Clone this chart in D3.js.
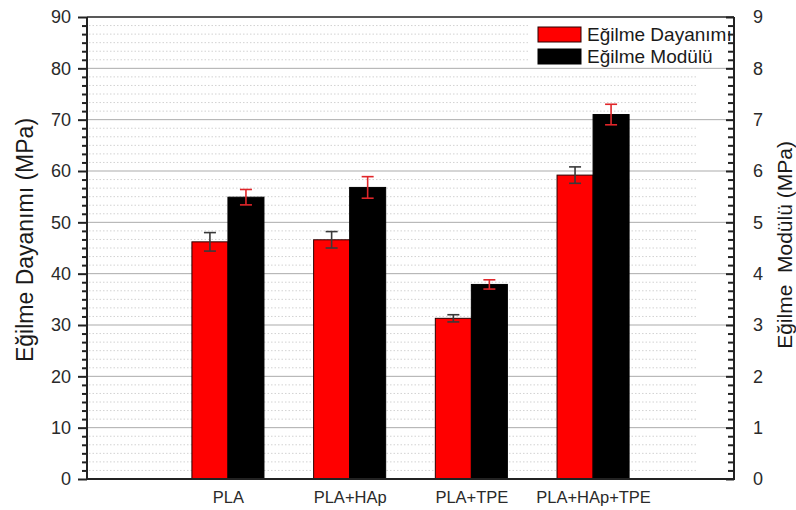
<!DOCTYPE html>
<html>
<head>
<meta charset="utf-8">
<script src="https://cdn.jsdelivr.net/npm/d3@7"></script>
<style>
  html, body { margin: 0; padding: 0; background: #fff; }
  svg { display: block; font-family: "Liberation Sans", Arial, sans-serif; }
</style>
</head>
<body>
<svg id="chart" width="796" height="510"></svg>
<script>
// Flexural test results per material
const categories = ["PLA", "PLA+HAp", "PLA+TPE", "PLA+HAp+TPE"];
const strength = [46.2, 46.6, 31.3, 59.2];        // Eğilme Dayanımı (MPa)
const strengthErr = [1.8, 1.6, 0.7, 1.6];
const modulus = [5.49, 5.68, 3.79, 7.10];         // Eğilme Modülü
const modulusErr = [0.15, 0.21, 0.09, 0.20];
const leftTicks = [0, 10, 20, 30, 40, 50, 60, 70, 80, 90];
const rightTicks = [0, 1, 2, 3, 4, 5, 6, 7, 8, 9];
const seriesNames = ["Eğilme Dayanımı", "Eğilme Modülü"];

const svg = d3.select("#chart");
const L = 87, R = 734, T = 17, B = 479;

const x = d3.scalePoint().domain(categories).range([L, R]).padding(1.158);
const yL = d3.scaleLinear().domain([0, 90]).range([B, T]);
const yR = d3.scaleLinear().domain([0, 9]).range([B, T]);
const barW = x.step() * 0.296;

// minor subdivisions: five per major interval
const minorL = d3.range(0, 90, 10 / 6).filter(v => Math.abs(v / 10 - Math.round(v / 10)) > 1e-6);
const minorR = minorL.map(v => v / 10);

// dotted minor grid
svg.append("g").selectAll("line").data(minorL).join("line")
  .attr("x1", L + 2).attr("x2", 697)
  .attr("y1", d => yL(d)).attr("y2", d => yL(d))
  .attr("stroke", "#d2d2d2").attr("stroke-width", 1).attr("stroke-dasharray", "1.5,2");

// solid major grid
svg.append("g").selectAll("line").data(leftTicks.filter(v => v > 0 && v < 90)).join("line")
  .attr("x1", L).attr("x2", R)
  .attr("y1", d => yL(d)).attr("y2", d => yL(d))
  .attr("stroke", "#ababab").attr("stroke-width", 1);

// bars
const groups = svg.append("g").selectAll("g").data(categories).join("g");
groups.append("rect")
  .attr("x", d => x(d) - barW).attr("width", barW)
  .attr("y", (d, i) => yL(strength[i])).attr("height", (d, i) => B - yL(strength[i]))
  .attr("fill", "#ff0000").attr("stroke", "#2a0000").attr("stroke-width", 1);
groups.append("rect")
  .attr("x", d => x(d)).attr("width", barW)
  .attr("y", (d, i) => yR(modulus[i])).attr("height", (d, i) => B - yR(modulus[i]))
  .attr("fill", "#000").attr("stroke", "#000").attr("stroke-width", 1);

// error bars
function errBar(g, cx, y0, y1, color) {
  const cap = 6;
  g.append("line").attr("x1", cx).attr("x2", cx).attr("y1", y0).attr("y2", y1)
    .attr("stroke", color).attr("stroke-width", 1.6);
  [y0, y1].forEach(yy => g.append("line").attr("x1", cx - cap).attr("x2", cx + cap)
    .attr("y1", yy).attr("y2", yy).attr("stroke", color).attr("stroke-width", 1.6));
}
const eg = svg.append("g");
categories.forEach((c, i) => {
  errBar(eg, x(c) - barW / 2, yL(strength[i] + strengthErr[i]), yL(strength[i] - strengthErr[i]), "#3a3a3a");
  errBar(eg, x(c) + barW / 2, yR(modulus[i] + modulusErr[i]), yR(modulus[i] - modulusErr[i]), "#e0262a");
});

// legend
const lg = svg.append("g");
lg.append("rect").attr("x", 530).attr("y", T + 1).attr("width", R - 530).attr("height", 49).attr("fill", "#fff");
svg.append("clipPath").attr("id", "plotClip").append("rect")
  .attr("x", L).attr("y", T).attr("width", R - L).attr("height", B - T);
const legendColors = ["#ff0000", "#000"];
seriesNames.forEach((name, i) => {
  lg.append("rect").attr("x", 538).attr("y", 27 + i * 22).attr("width", 43).attr("height", 15)
    .attr("fill", legendColors[i]).attr("stroke", i === 0 ? "#2a0000" : "#000").attr("stroke-width", 1);
  lg.append("text").attr("x", 587).attr("y", 41 + i * 22)
    .attr("clip-path", "url(#plotClip)")
    .attr("font-size", 19).attr("fill", "#1a1a1a").text(name);
});

// axes
const axisColor = "#222";
function styleAxis(g) {
  g.select(".domain").remove();
  g.selectAll(".tick line").attr("stroke", axisColor).attr("stroke-width", 2);
  g.selectAll("text").attr("fill", "#2a2a2a").attr("font-family", "'Liberation Sans', Arial, sans-serif");
}
svg.append("g").attr("transform", `translate(${L},0)`)
  .call(d3.axisLeft(yL).tickValues(minorL).tickSize(5).tickFormat(""))
  .call(styleAxis);
svg.append("g").attr("transform", `translate(${L},0)`)
  .call(d3.axisLeft(yL).tickValues(leftTicks).tickSize(9).tickPadding(7))
  .call(styleAxis)
  .selectAll("text").attr("font-size", 18);
svg.append("g").attr("transform", `translate(${R},0)`)
  .call(d3.axisRight(yR).tickValues(minorR).tickSize(-6).tickFormat(""))
  .call(styleAxis);
svg.append("g").attr("transform", `translate(${R},0)`)
  .call(d3.axisRight(yR).tickValues(rightTicks).tickSize(-8).tickPadding(19))
  .call(styleAxis)
  .selectAll("text").attr("font-size", 18);
svg.append("g").attr("transform", `translate(0,${B})`)
  .call(d3.axisBottom(x).tickSize(0).tickPadding(12))
  .call(styleAxis)
  .selectAll("text").attr("font-size", 16.5);

// frame
const frame = svg.append("g").attr("fill", "none").attr("stroke", axisColor);
frame.append("line").attr("x1", L).attr("x2", L).attr("y1", T).attr("y2", B).attr("stroke-width", 2);
frame.append("line").attr("x1", R).attr("x2", R).attr("y1", T).attr("y2", B).attr("stroke-width", 2);
frame.append("line").attr("x1", L - 1).attr("x2", R + 1).attr("y1", B).attr("y2", B).attr("stroke-width", 2);
frame.append("line").attr("x1", L).attr("x2", R).attr("y1", T).attr("y2", T).attr("stroke-width", 1.5);

// axis titles
svg.append("text").attr("transform", `translate(33,${(T + B) / 2 - 8}) rotate(-90)`)
  .attr("text-anchor", "middle").attr("font-size", 23).attr("fill", "#1a1a1a")
  .text("Eğilme Dayanımı (MPa)");
svg.append("text").attr("transform", `translate(792,${(T + B) / 2 - 3}) rotate(-90)`)
  .attr("text-anchor", "middle").attr("font-size", 21).attr("fill", "#1a1a1a")
  .attr("xml:space", "preserve").style("white-space", "pre")
  .text("Eğilme  Modülü (MPa)");
</script>
</body>
</html>
